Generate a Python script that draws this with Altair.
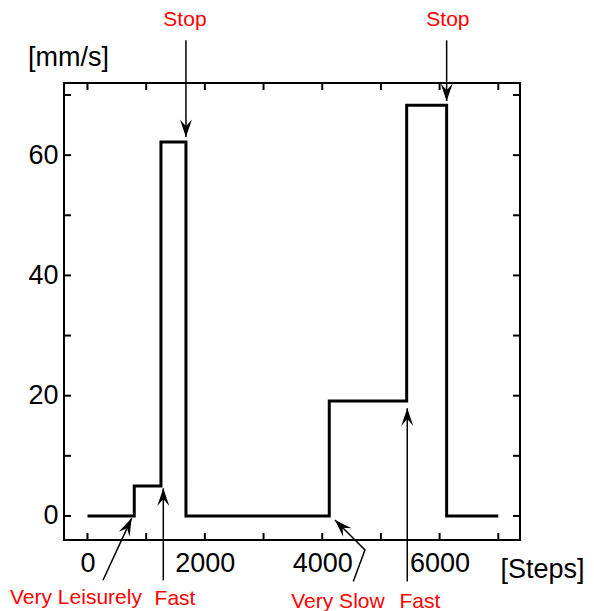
import altair as alt
import pandas as pd

FONT = "Liberation Sans"

# step profile
steps = [0, 797, 1252, 1678, 4120, 5439, 6120, 7000]
speed = [0, 5, 62.2, 0, 19.1, 68.3, 0, 0]

# ticks / labels
x_ticks = [0, 1000, 2000, 3000, 4000, 5000, 6000, 7000]
y_ticks = [0, 10, 20, 30, 40, 50, 60, 70]
x_labels = [0, 2000, 4000, 6000]
y_labels = [0, 20, 40, 60]

# annotations (data coordinates)
ann_text = ["Stop", "Stop", "Very Leisurely", "Fast", "Very Slow", "Fast"]
ann_x = [1661, 6142, -196, 1491, 4268, 5665]
ann_y = [81.4, 81.4, -14.65, -14.8, -15.3, -15.3]

arrow_id = [1, 1, 2, 2, 3, 3, 4, 4, 4, 5, 5, 6, 6]
arrow_x = [1678, 1678, 6120, 6120, 264, 752, 4529, 4728, 4217, 1292, 1292, 5449, 5449]
arrow_y = [79.1, 63.0, 79.1, 69.0, -10.7, -0.4, -10.9, -5.67, -0.68, -10.7, 4.6, -10.9, 17.9]
arrow_order = [0, 1, 0, 1, 0, 1, 0, 1, 2, 0, 1, 0, 1]

head_x = [1678, 6120, 752, 4217, 1292, 5449]
head_y = [63.0, 69.0, -0.4, -0.68, 4.6, 17.9]
head_angle = [180, 180, 25, 315, 0, 0]

XD = [-400, 7370]
YD = [-4, 72]
xs = alt.Scale(domain=XD, zero=False, nice=False)
ys = alt.Scale(domain=YD, zero=False, nice=False)

X_AXIS = alt.Axis(
    values=x_labels, format="d", ticks=False, domain=False, grid=False,
    labelFont=FONT, labelFontSize=27, labelColor="black", labelPadding=10,
    title="[Steps]", titleFont=FONT, titleFontSize=27, titleFontWeight="normal",
    titleColor="black", titleX=478, titleY=37, titleAlign="center",
    titleBaseline="alphabetic")
Y_AXIS = alt.Axis(
    values=y_labels, format="d", ticks=False, domain=False, grid=False,
    labelFont=FONT, labelFontSize=27, labelColor="black", labelPadding=6,
    title="[mm/s]", titleFont=FONT, titleFontSize=27, titleFontWeight="normal",
    titleColor="black", titleAngle=0, titleX=4, titleY=-18, titleAlign="center",
    titleBaseline="alphabetic")


def X(f="x"):
    return alt.X(f"{f}:Q", scale=xs, axis=X_AXIS)


def Y(f="y"):
    return alt.Y(f"{f}:Q", scale=ys, axis=Y_AXIS)


df = pd.DataFrame({"x": steps, "y": speed})
line = alt.Chart(df).mark_line(interpolate="step-after", color="black", strokeWidth=3).encode(
    x=X(), y=Y())

xt = pd.DataFrame({"x": x_ticks})
yt = pd.DataFrame({"y": y_ticks})
tick_style = dict(color="black", strokeWidth=2)
bt = alt.Chart(xt).mark_rule(**tick_style).encode(x=X(), y=alt.value(457), y2=alt.value(450))
tt = alt.Chart(xt).mark_rule(**tick_style).encode(x=X(), y=alt.value(0), y2=alt.value(7))
lt = alt.Chart(yt).mark_rule(**tick_style).encode(y=Y(), x=alt.value(0), x2=alt.value(7))
rt = alt.Chart(yt).mark_rule(**tick_style).encode(y=Y(), x=alt.value(456), x2=alt.value(449))

adf = pd.DataFrame({"id": arrow_id, "x": arrow_x, "y": arrow_y, "o": arrow_order})
shafts = alt.Chart(adf).mark_line(color="black", strokeWidth=1.5).encode(
    x=X(), y=Y(), detail="id:N", order="o:Q")

hdf = pd.DataFrame({"x": head_x, "y": head_y, "a": head_angle})
heads = alt.Chart(hdf).mark_point(
    shape="M0,0 L1.5,4.4 L0,2.7 L-1.5,4.4 Z", filled=True, color="black",
    size=64, opacity=1, strokeWidth=0).encode(
    x=X(), y=Y(), angle=alt.Angle("a:Q", scale=None))

tdf = pd.DataFrame({"t": ann_text, "x": ann_x, "y": ann_y})
texts = alt.Chart(tdf).mark_text(
    font=FONT, fontSize=21, color="red", align="center", baseline="alphabetic").encode(
    x=X(), y=Y(), text="t:N")

chart = alt.layer(line, bt, tt, lt, rt, shafts, heads, texts).properties(
    width=456, height=457,
    autosize=alt.AutoSizeParams(type="none"),
    padding={"left": 56, "top": 75, "right": 66, "bottom": 71},
    background="white",
).configure_view(stroke="black", strokeWidth=2)

chart.save("out.html", embed_options={"renderer": "svg", "actions": False})
